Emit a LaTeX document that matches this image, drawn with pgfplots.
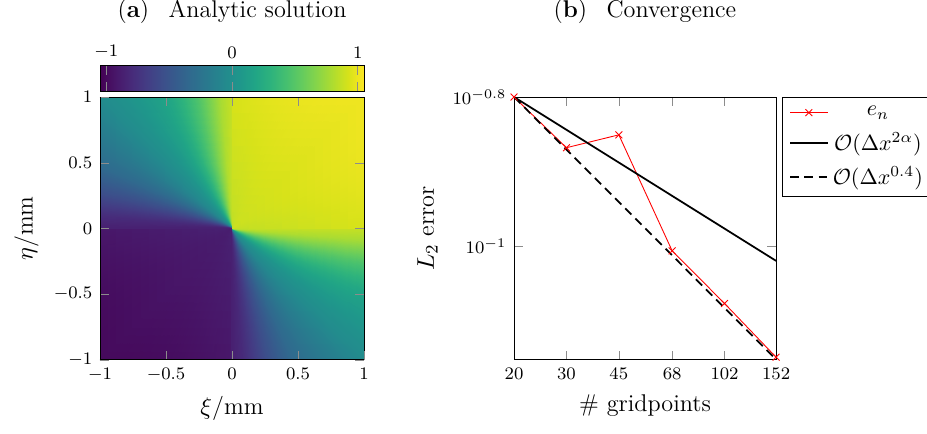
\documentclass[border=0pt]{standalone}
\usepackage{pgfplots}
\pgfplotsset{compat=1.18}
\usepgfplotslibrary{patchplots}
\pgfplotstableread{
x y z
0 0 -0.850
0 0 -0.855
0 0 -0.860
0 0 -0.865
0 0 -0.869
0 0 -0.873
0 0 -0.876
0 0 -0.878
0 0 -0.880
0 0 -0.880
0 0 -0.880
0 0 -0.878
0 0 -0.876
0 0 -0.873
0 0 -0.869
0 0 -0.865
0 0 -0.860
0 0 -0.855
0 0 -0.850
0 0 -0.870
0 0 -0.820
0 0 -0.735
0 0 -0.625
0 0 -0.500
0 0 -0.370
0 0 -0.245
0 0 -0.135
0 0 -0.050
0 0 -0.020
0 0 0.040
0 0 0.120
0 0 0.230
0 0 0.360
0 0 0.490
0 0 0.620
0 0 0.735
0 0 0.820
0 0 0.870
0 0 0.850
0 0 0.855
0 0 0.860
0 0 0.865
0 0 0.869
0 0 0.873
0 0 0.876
0 0 0.878
0 0 0.880
0 0 0.880
0 0 0.880
0 0 0.878
0 0 0.876
0 0 0.873
0 0 0.869
0 0 0.865
0 0 0.860
0 0 0.855
0 0 0.850
0 0 0.870
0 0 0.820
0 0 0.735
0 0 0.620
0 0 0.490
0 0 0.360
0 0 0.230
0 0 0.120
0 0 0.040
0 0 -0.020
0 0 -0.050
0 0 -0.135
0 0 -0.245
0 0 -0.370
0 0 -0.500
0 0 -0.625
0 0 -0.735
0 0 -0.820
0 0 -0.870
-1 0 -0.920
-1 -0.0875 -0.934
-1 -0.1763 -0.947
-1 -0.2679 -0.960
-1 -0.3640 -0.971
-1 -0.4663 -0.981
-1 -0.5774 -0.989
-1 -0.7002 -0.995
-1 -0.8391 -0.999
-1 -1 -1.000
-0.8391 -1 -0.999
-0.7002 -1 -0.995
-0.5774 -1 -0.989
-0.4663 -1 -0.981
-0.3640 -1 -0.971
-0.2679 -1 -0.960
-0.1763 -1 -0.947
-0.0875 -1 -0.934
0 -1 -0.920
0 -1 -0.870
0.0875 -1 -0.800
0.1763 -1 -0.680
0.2679 -1 -0.550
0.3640 -1 -0.440
0.4663 -1 -0.330
0.5774 -1 -0.260
0.7002 -1 -0.190
0.8391 -1 -0.120
1 -1 -0.040
1 -0.8391 0.010
1 -0.7002 0.070
1 -0.5774 0.130
1 -0.4663 0.210
1 -0.3640 0.330
1 -0.2679 0.460
1 -0.1763 0.620
1 -0.0875 0.780
1 0 0.870
1 0 0.920
1 0.0875 0.934
1 0.1763 0.947
1 0.2679 0.960
1 0.3640 0.971
1 0.4663 0.981
1 0.5774 0.989
1 0.7002 0.995
1 0.8391 0.999
1 1 1.000
0.8391 1 0.999
0.7002 1 0.995
0.5774 1 0.989
0.4663 1 0.981
0.3640 1 0.971
0.2679 1 0.960
0.1763 1 0.947
0.0875 1 0.934
0 1 0.920
0 1 0.870
-0.0875 1 0.780
-0.1763 1 0.620
-0.2679 1 0.460
-0.3640 1 0.330
-0.4663 1 0.210
-0.5774 1 0.130
-0.7002 1 0.070
-0.8391 1 0.010
-1 1 -0.040
-1 0.8391 -0.120
-1 0.7002 -0.190
-1 0.5774 -0.260
-1 0.4663 -0.330
-1 0.3640 -0.440
-1 0.2679 -0.550
-1 0.1763 -0.680
-1 0.0875 -0.800
-1 0 -0.870
}\fieldtable
\begin{document}
\begin{tikzpicture}
\begin{axis}[
  at={(0,0)}, anchor=south west,
  scale only axis, width=120pt, height=119.5pt,
  view={0}{90},
  xmin=-1, xmax=1, ymin=-1, ymax=1,
  xtick={-1,-0.5,0,0.5,1}, ytick={-1,-0.5,0,0.5,1},
  tick style={black!45},
  axis on top,
  ticklabel style={font=\footnotesize},
  xlabel={$\xi$/mm}, ylabel={$\eta$/mm},
  label style={font=\fontsize{11}{13}\selectfont},
  colormap name=viridis,
  point meta min=-1.05, point meta max=1.05,
  colorbar horizontal,
  colorbar style={at={(0.5,1.02)}, anchor=south,
    scale only axis, width=120pt, height=11.8pt,
    xtick={-1,0,1}, xticklabel pos=upper,
    ticklabel style={font=\footnotesize}, tick style={black!45}},
]
\addplot3[surf, shader=interp, patch type=bilinear, mesh/rows=2, mesh/cols=76]
  table[x=x, y=y, z=z] {\fieldtable};
\end{axis}

\begin{axis}[
  at={(188.2pt,0)}, anchor=south west,
  scale only axis, width=119.1pt, height=119.5pt,
  xmode=log, ymode=log,
  xmin=20, xmax=152, ymin=0.0703, ymax=0.15849,
  xtick={20,30,45,68,102,152}, xticklabels={20,30,45,68,102,152},
  ytick={0.15849,0.1}, yticklabels={$10^{-0.8}$,$10^{-1}$},
  tick style={black!45},
  ticklabel style={font=\footnotesize},
  xlabel={\# gridpoints}, ylabel={$L_2$ error},
  label style={font=\fontsize{11}{13}\selectfont},
  legend cell align=center,
  legend style={at={(1.023,1)}, anchor=north west, font=\fontsize{10}{12}\selectfont,
    row sep=2pt},
  clip=false,
]
\addplot[red, mark=x, mark size=2.2pt] coordinates {(20,0.1585) (30,0.1355) (45,0.1410) (68,0.0985) (102,0.0837) (152,0.0709)};
\addlegendentry{$e_n$}
\addplot[black, thick] coordinates {(20,0.1585) (152,0.0955)};
\addlegendentry{$\mathcal{O}(\Delta x^{2\alpha})$}
\addplot[black, thick, dash pattern=on 4pt off 2.5pt] coordinates {(20,0.1585) (152,0.0704)};
\addlegendentry{$\mathcal{O}(\Delta x^{0.4})$}
\end{axis}

\node[font=\fontsize{11}{13}\selectfont] at (60pt,158.2pt) {(\textbf{a})\hspace{0.8em}Analytic solution};
\node[font=\fontsize{11}{13}\selectfont] at (247.7pt,158.2pt) {(\textbf{b})\hspace{0.8em}Convergence};
\pgfresetboundingbox
\useasboundingbox (-45.45pt,-33.6pt) rectangle (375.9pt,163.6pt);
\end{tikzpicture}
\end{document}
